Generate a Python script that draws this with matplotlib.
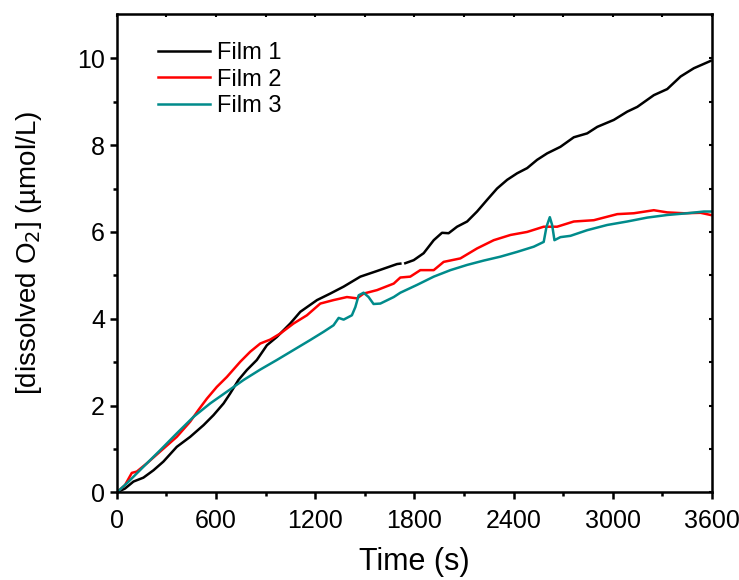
import matplotlib
matplotlib.use('Agg')
import matplotlib.pyplot as plt
import numpy as np

# Film 1 (black) - short gap in the trace near 1730 s
t1 = [0, 50, 101, 161, 222, 282, 363, 444, 525, 585, 646, 686, 736, 787, 847, 908, 968,
      1049, 1110, 1211, 1291, 1372, 1473, 1574, 1695, 1715,
      1730,
      1745, 1796, 1856, 1917, 1967, 2007, 2058, 2119, 2179, 2240, 2300, 2361, 2421, 2482,
      2542, 2603, 2683, 2764, 2845, 2906, 3006, 3087, 3148, 3248, 3329, 3410, 3490, 3592]
y1 = [0, 0.09, 0.25, 0.34, 0.51, 0.71, 1.05, 1.28, 1.55, 1.78, 2.05, 2.28, 2.59, 2.82, 3.05,
      3.39, 3.58, 3.89, 4.16, 4.43, 4.58, 4.74, 4.97, 5.10, 5.26, 5.27,
      np.nan,
      5.28, 5.35, 5.51, 5.81, 5.98, 5.97, 6.12, 6.24, 6.47, 6.74, 7.00, 7.20, 7.35, 7.47,
      7.66, 7.81, 7.96, 8.18, 8.27, 8.42, 8.58, 8.77, 8.88, 9.15, 9.29, 9.58, 9.77, 9.94]

# Film 2 (red)
t2 = [0, 50, 91, 121, 182, 262, 363, 444, 494, 545, 605, 666, 747, 807, 868, 928, 989, 1069,
      1150, 1231, 1311, 1392, 1453, 1493, 1574, 1675, 1715, 1775, 1836, 1917, 1977, 2078,
      2179, 2280, 2381, 2482, 2582, 2663, 2764, 2885, 3027, 3127, 3248, 3329, 3430, 3531, 3592]
y2 = [0, 0.17, 0.45, 0.48, 0.67, 0.94, 1.28, 1.63, 1.90, 2.16, 2.43, 2.66, 3.01, 3.24, 3.43,
      3.52, 3.66, 3.89, 4.08, 4.35, 4.43, 4.50, 4.47, 4.58, 4.66, 4.81, 4.95, 4.97, 5.12, 5.12,
      5.31, 5.39, 5.62, 5.81, 5.93, 6.00, 6.12, 6.12, 6.24, 6.27, 6.41, 6.43, 6.50, 6.45, 6.43,
      6.44, 6.39]

# Film 3 (teal)
t3 = [0, 61, 161, 262, 363, 464, 565, 666, 767, 868, 968, 1069, 1170, 1251, 1311, 1342, 1372,
      1422, 1443, 1463, 1493, 1523, 1553, 1594, 1675, 1715, 1816, 1917, 2018, 2119, 2219,
      2320, 2421, 2522, 2582, 2599, 2619, 2633, 2647, 2683, 2744, 2845, 2966, 3087, 3208,
      3329, 3450, 3551, 3592]
y3 = [0, 0.21, 0.59, 0.97, 1.36, 1.74, 2.05, 2.32, 2.59, 2.83, 3.05, 3.28, 3.51, 3.70, 3.85,
      4.02, 3.98, 4.08, 4.27, 4.54, 4.60, 4.50, 4.34, 4.35, 4.50, 4.60, 4.78, 4.97, 5.12, 5.24,
      5.34, 5.43, 5.54, 5.66, 5.77, 6.12, 6.34, 6.16, 5.81, 5.88, 5.91, 6.04, 6.16, 6.24, 6.33,
      6.39, 6.43, 6.47, 6.47]

labels = ['Film 1', 'Film 2', 'Film 3']
colors = ['black', '#ff0000', '#008b8b']

plt.rcParams['font.family'] = ['Liberation Sans', 'DejaVu Sans']

fig = plt.figure(figsize=(7.39, 5.8), dpi=100)
ax = fig.add_axes([0.158, 0.151, 0.8055, 0.8249])

for t, y, lab, c in zip([t1, t2, t3], [y1, y2, y3], labels, colors):
    ax.plot(t, y, color=c, lw=1.8, label=lab)

ax.set_xlim(0, 3600)
ax.set_ylim(0, 11.02)
ax.set_xticks(np.arange(0, 3601, 600))
ax.set_xticks(np.arange(0, 3601, 300), minor=True)
ax.set_yticks(np.arange(0, 11, 2))
ax.set_yticks(np.arange(0, 11, 1), minor=True)

for s in ax.spines.values():
    s.set_linewidth(1.8)
ax.tick_params(which='major', direction='out', length=5, width=1.8, labelsize=18)
ax.tick_params(axis='x', which='major', pad=7)
ax.tick_params(which='minor', direction='out', length=3, width=1.8)

# tiny inward ticks on the top and right spines
axt = ax.secondary_xaxis('top')
axt.set_xticks(np.arange(0, 3601, 300))
axt.tick_params(direction='in', length=2.5, width=1.5, labeltop=False)
axr = ax.secondary_yaxis('right')
axr.set_yticks(np.arange(0, 11, 1))
axr.tick_params(direction='in', length=2.5, width=1.5, labelright=False)

ax.set_xlabel('Time (s)', fontsize=22, labelpad=10)
ax.set_ylabel('[dissolved O$_2$] (\u00b5mol/L)', fontsize=20, labelpad=24)

ax.legend(loc='upper left', bbox_to_anchor=(0.045, 0.97), frameon=False, fontsize=17,
          handlelength=2.2, handletextpad=0.3, labelspacing=0.18, borderaxespad=0.2)

fig.savefig('out.png', dpi=100)
